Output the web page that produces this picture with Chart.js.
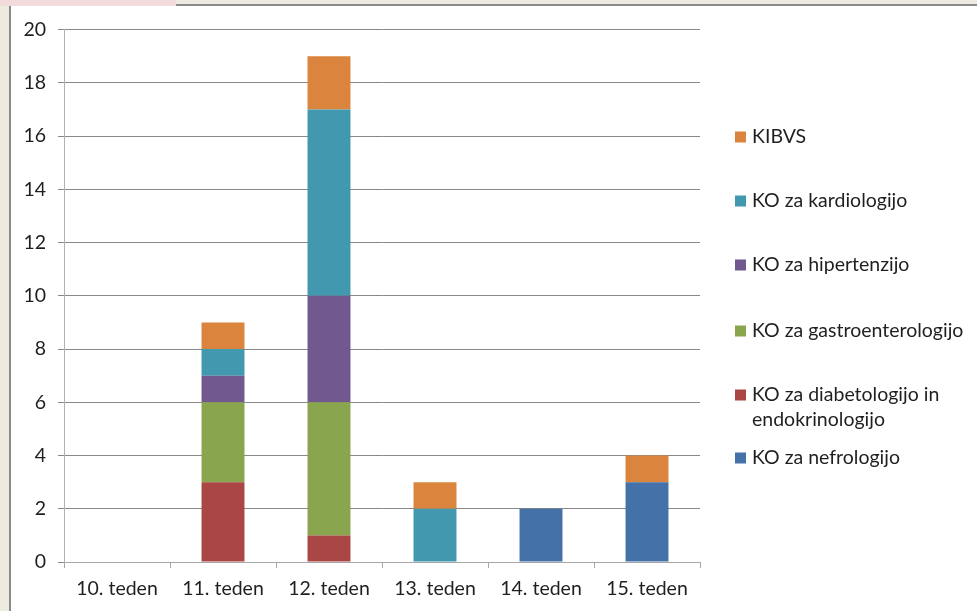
<!DOCTYPE html>
<html>
<head>
<meta charset="utf-8">
<script src="https://cdn.jsdelivr.net/npm/chart.js@4/dist/chart.umd.min.js"></script>
<style>
  html, body { margin: 0; padding: 0; }
  body { width: 977px; height: 611px; background: #EDEBE0; position: relative; overflow: hidden; }
  #tab { position: absolute; left: 0; top: 0; width: 176px; height: 6px; background: #F2DCDB; }
  #topline { position: absolute; left: 176px; top: 4px; right: 0; height: 2px; background: #8A8A8A; }
  #leftline { position: absolute; left: 9px; top: 6px; bottom: 0; width: 2px; background: #8A8A8A; }
  #panel { position: absolute; left: 11px; top: 6px; width: 966px; height: 605px; background: #fff; }
  canvas { display: block; }
</style>
</head>
<body>
<div id="tab"></div>
<div id="topline"></div>
<div id="leftline"></div>
<div id="panel"><canvas id="c" width="966" height="605"></canvas></div>
<script>
// Weekly counts by clinical department (stacked from the bottom up)
const weeks = ['10. teden', '11. teden', '12. teden', '13. teden', '14. teden', '15. teden'];
const nefrologija   = [0, 0, 0, 0, 2, 3];
const diabetologija = [0, 3, 1, 0, 0, 0];
const gastro        = [0, 3, 5, 0, 0, 0];
const hipertenzija  = [0, 1, 4, 0, 0, 0];
const kardiologija  = [0, 1, 7, 2, 0, 0];
const kibvs         = [0, 1, 2, 1, 0, 1];
const yTicks = [0, 2, 4, 6, 8, 10, 12, 14, 16, 18, 20];

const FONT = 'Lato, "Open Sans", sans-serif';
const TEXT = '#1F1F1F';
const FONT_SIZE = 19.5;

const series = [
  { label: ['KO za nefrologijo'], data: nefrologija, color: '#4471A7' },
  { label: ['KO za diabetologijo in', 'endokrinologijo'], data: diabetologija, color: '#AA4643' },
  { label: ['KO za gastroenterologijo'], data: gastro, color: '#89A54D' },
  { label: ['KO za hipertenzijo'], data: hipertenzija, color: '#71588F' },
  { label: ['KO za kardiologijo'], data: kardiologija, color: '#4198AF' },
  { label: ['KIBVS'], data: kibvs, color: '#DB843D' }
];

// Legend on the right, top item = top of the stack
const sideLegend = {
  id: 'sideLegend',
  afterDraw(chart, args, opts) {
    const ctx = chart.ctx;
    ctx.save();
    ctx.font = opts.fontSize + 'px ' + FONT;
    ctx.textBaseline = 'middle';
    ctx.textAlign = 'left';
    const items = chart.data.datasets.slice().reverse();
    items.forEach((ds, i) => {
      const cy = opts.rows[i];
      ctx.fillStyle = ds.backgroundColor;
      ctx.fillRect(opts.boxX, cy - 5.5, 11, 11);
      ctx.fillStyle = TEXT;
      ds.legendLines.forEach((line, j) => {
        ctx.fillText(line, opts.textX, cy + j * opts.lineHeight);
      });
    });
    ctx.restore();
  }
};

new Chart(document.getElementById('c'), {
  type: 'bar',
  data: {
    labels: weeks,
    datasets: series.map(s => ({
      label: s.label.join(' '),
      legendLines: s.label,
      data: s.data,
      backgroundColor: s.color,
      borderWidth: 0,
      barPercentage: 0.405,
      categoryPercentage: 1
    }))
  },
  options: {
    responsive: false,
    animation: false,
    layout: { padding: { left: 0, top: 23, right: 277, bottom: 0 } },
    plugins: {
      legend: { display: false },
      tooltip: { enabled: false },
      sideLegend: {
        boxX: 724, textX: 741, fontSize: FONT_SIZE, lineHeight: 25,
        rows: [131, 195, 259, 325, 389, 452]
      }
    },
    scales: {
      x: {
        stacked: true,
        offset: true,
        grid: {
          offset: true,
          drawOnChartArea: false,
          drawTicks: true,
          tickLength: 6,
          color: '#A6A6A6'
        },
        border: { color: '#A6A6A6', width: 1 },
        ticks: { color: TEXT, font: { family: FONT, size: FONT_SIZE }, padding: 9, maxRotation: 0 },
        afterFit(scale) { scale.height = 49; }
      },
      y: {
        stacked: true,
        min: 0,
        max: 20,
        afterBuildTicks(scale) { scale.ticks = yTicks.map(v => ({ value: v })); },
        grid: { color: '#888888', lineWidth: 1, tickLength: 6 },
        border: { color: '#B0B0B0', width: 1 },
        ticks: { color: TEXT, font: { family: FONT, size: FONT_SIZE }, padding: 12 },
        afterFit(scale) { scale.width = 53; }
      }
    }
  },
  plugins: [sideLegend]
});
</script>
</body>
</html>
